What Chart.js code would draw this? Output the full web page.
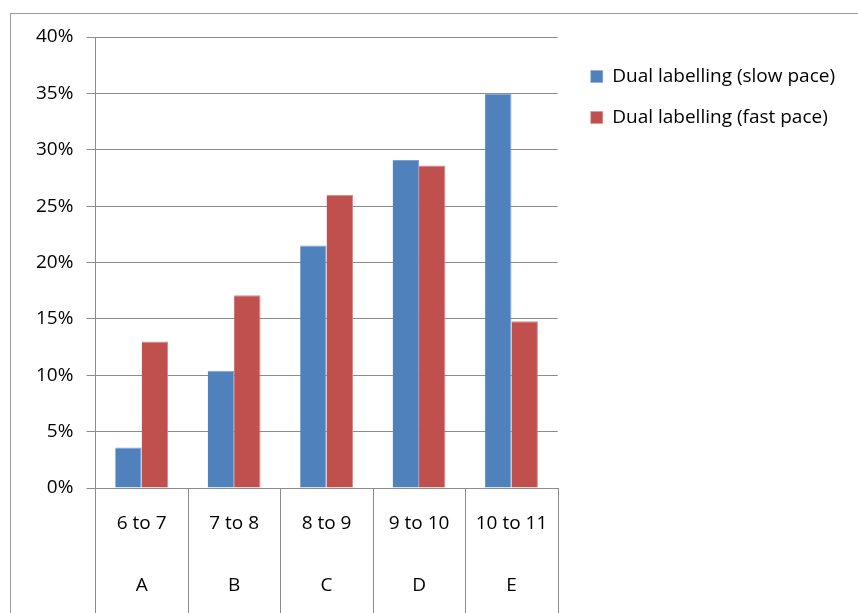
<!DOCTYPE html>
<html>
<head>
<meta charset="utf-8">
<script src="https://cdn.jsdelivr.net/npm/chart.js@4"></script>
<style>
  html, body { margin: 0; padding: 0; background: #fff; }
  #wrap { position: relative; width: 858px; height: 613px; overflow: hidden; }
  #frame { position: absolute; left: 10px; top: 13px; width: 900px; height: 700px; border: 1px solid #9c9c9c; }
  #chart { position: absolute; left: 0; top: 0; }
</style>
</head>
<body>
<div id="wrap">
  <div id="frame"></div>
  <canvas id="chart" width="858" height="613"></canvas>
</div>
<script>
// age ranges and groups on the category axis
const ranges = ['6 to 7', '7 to 8', '8 to 9', '9 to 10', '10 to 11'];
const groups = ['A', 'B', 'C', 'D', 'E'];

// percentages per group
const slowPace = [3.6, 10.4, 21.5, 29.1, 35.0];
const fastPace = [13.0, 17.1, 26.0, 28.6, 14.8];

const yTicks = [0, 5, 10, 15, 20, 25, 30, 35, 40];

const axisColor = '#8c8c8c';

// vertical dividers between the category cells under the axis
const categoryDividers = {
  id: 'categoryDividers',
  afterDraw(chart) {
    const x = chart.scales.x;
    const ctx = chart.ctx;
    ctx.save();
    ctx.strokeStyle = axisColor;
    ctx.lineWidth = 1;
    for (let i = 0; i <= ranges.length; i++) {
      const px = Math.round(x.getPixelForValue(i - 0.5)) + 0.5;
      ctx.beginPath();
      ctx.moveTo(px, chart.chartArea.bottom);
      ctx.lineTo(px, chart.height);
      ctx.stroke();
    }
    ctx.restore();
  }
};

new Chart(document.getElementById('chart'), {
  type: 'bar',
  data: {
    labels: ranges.map((r, i) => [r, groups[i]]),
    datasets: [
      { label: 'Dual labelling (slow pace)', data: slowPace, yAxisID: 'y', backgroundColor: '#4F81BD', borderColor: '#7da2d2', borderWidth: { top: 1, left: 0, right: 1, bottom: 0 } },
      { label: 'Dual labelling (fast pace)', data: fastPace, yAxisID: 'y', backgroundColor: '#C0504D', borderColor: '#d98a88', borderWidth: { top: 1, left: 0, right: 1, bottom: 0 } }
    ]
  },
  plugins: [categoryDividers],
  options: {
    responsive: false,
    animation: false,
    layout: { padding: { top: 37, left: 23, right: 13, bottom: -1 } },
    datasets: { bar: { categoryPercentage: 2 / 3.5, barPercentage: 1 } },
    plugins: {
      tooltip: { enabled: false },
      legend: {
        position: 'right',
        align: 'start',
        maxWidth: 320,
        title: { display: true, text: '', font: { size: 8, lineHeight: 1 }, padding: 0 },
        labels: {
          color: '#000',
          font: { family: 'Open Sans', size: 19 },
          boxWidth: 12,
          boxHeight: 12,
          padding: 22
        }
      }
    },
    scales: {
      x: {
        grid: { offset: true, display: false },
        border: { color: axisColor },
        ticks: {
          color: '#000',
          font: { family: 'Open Sans', size: 19, lineHeight: 62 / 19 },
          padding: -3,
          maxRotation: 0,
          autoSkip: false
        }
      },
      y: {
        min: 0,
        max: 40,
        afterBuildTicks: axis => { axis.ticks = yTicks.map(v => ({ value: v })); },
        grid: { color: axisColor, tickLength: 9 },
        border: { color: axisColor },
        ticks: {
          color: '#000',
          font: { family: 'Open Sans', size: 19 },
          padding: 13,
          callback: v => v + '%'
        }
      },
      // empty spacer between the plot and the legend
      gap: {
        position: 'right',
        grid: { display: false },
        border: { display: false },
        ticks: { display: false },
        afterFit: s => { s.width = 11; }
      }
    }
  }
});
</script>
</body>
</html>
